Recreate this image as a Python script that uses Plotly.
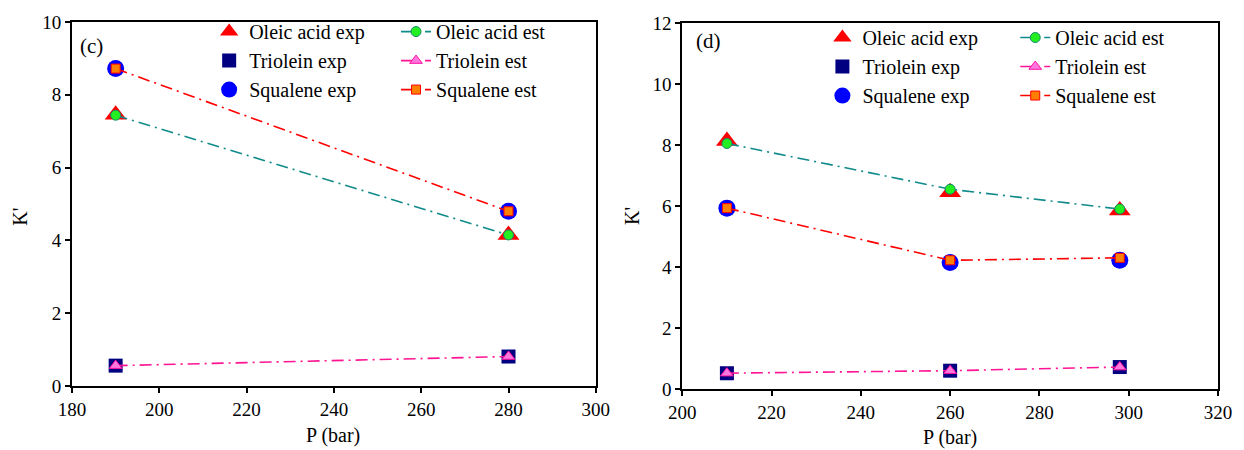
import plotly.graph_objects as go

# ---------------- data ----------------
p_c = [190, 280]
oleic_exp_c = [7.45, 4.15]
oleic_est_c = [7.44, 4.15]
triolein_exp_c = [0.56, 0.81]
triolein_est_c = [0.56, 0.81]
squalene_exp_c = [8.72, 4.80]
squalene_est_c = [8.72, 4.80]

p_d = [210, 260, 298]
oleic_exp_d = [8.13, 6.45, 5.85]
oleic_est_d = [8.05, 6.55, 5.90]
triolein_exp_d = [0.52, 0.60, 0.72]
triolein_est_d = [0.52, 0.60, 0.72]
squalene_exp_d = [5.93, 4.15, 4.22]
squalene_est_d = [5.93, 4.22, 4.30]

# ---------------- layout helpers ----------------
W, H = 1244, 450
ML, MR, MT, MB = 72, 19, 19, 61
PW, PH = W - ML - MR, H - MT - MB

def px(x):
    return (x - ML) / PW

def py(y):
    return (H - MB - y) / PH

FONT = "Liberation Serif"
DASH = "12px,5px,2px,5px"

fig = go.Figure()

def add_panel(xa, ya, p, oe, ot, te, tt, se, st, lg_exp, lg_est):
    # experimental markers
    fig.add_trace(go.Scatter(x=p, y=oe, mode="markers", name="Oleic acid exp",
                             marker=dict(symbol="triangle-up", size=19, color="#ff0000"),
                             xaxis=xa, yaxis=ya, legend=lg_exp))
    fig.add_trace(go.Scatter(x=p, y=te, mode="markers", name="Triolein exp",
                             marker=dict(symbol="square", size=14, color="#000080"),
                             xaxis=xa, yaxis=ya, legend=lg_exp))
    fig.add_trace(go.Scatter(x=p, y=se, mode="markers", name="Squalene exp",
                             marker=dict(symbol="circle", size=17, color="#0000ff"),
                             xaxis=xa, yaxis=ya, legend=lg_exp))
    # estimated lines
    fig.add_trace(go.Scatter(x=p, y=ot, mode="lines+markers", name="Oleic acid est",
                             line=dict(color="#108a8a", width=1.6, dash=DASH),
                             marker=dict(symbol="circle", size=10, color="#22ee22",
                                         line=dict(color="#108a6a", width=1)),
                             xaxis=xa, yaxis=ya, legend=lg_est))
    fig.add_trace(go.Scatter(x=p, y=tt, mode="lines+markers", name="Triolein est",
                             line=dict(color="#ff1493", width=1.6, dash=DASH),
                             marker=dict(symbol="triangle-up", size=11, color="#ff77dd",
                                         line=dict(color="#ff10a0", width=1)),
                             xaxis=xa, yaxis=ya, legend=lg_est))
    fig.add_trace(go.Scatter(x=p, y=st, mode="lines+markers", name="Squalene est",
                             line=dict(color="#ff0000", width=1.6, dash=DASH),
                             marker=dict(symbol="square", size=9, color="#ff8000",
                                         line=dict(color="#ff0000", width=1)),
                             xaxis=xa, yaxis=ya, legend=lg_est))

add_panel("x", "y", p_c, oleic_exp_c, oleic_est_c, triolein_exp_c, triolein_est_c,
          squalene_exp_c, squalene_est_c, "legend", "legend2")
add_panel("x2", "y2", p_d, oleic_exp_d, oleic_est_d, triolein_exp_d, triolein_est_d,
          squalene_exp_d, squalene_est_d, "legend3", "legend4")

axis_common = dict(showgrid=False, zeroline=False, showline=True, linecolor="black",
                   linewidth=2, mirror=True, ticks="outside", ticklen=5, tickwidth=1.5,
                   tickcolor="black", tickfont=dict(family=FONT, size=19, color="black"))

leg_common = dict(font=dict(family=FONT, size=20, color="black"), bgcolor="rgba(0,0,0,0)",
                  borderwidth=0, xanchor="left", yanchor="top", orientation="v",
                  itemsizing="trace", tracegroupgap=0)

fig.update_layout(
    width=W, height=H,
    margin=dict(l=ML, r=MR, t=MT, b=MB),
    paper_bgcolor="white", plot_bgcolor="white",
    font=dict(family=FONT, color="black"),
    xaxis=dict(domain=[0, px(599)], range=[180, 300], dtick=20, anchor="y", **axis_common),
    yaxis=dict(domain=[py(386), py(19)], range=[0, 10], dtick=2, anchor="x", **axis_common),
    xaxis2=dict(domain=[px(686), 1], range=[200, 320], dtick=20, anchor="y2", **axis_common),
    yaxis2=dict(domain=[0, py(20)], range=[0, 12], dtick=2, anchor="x2", **axis_common),
    legend=dict(x=px(210), y=py(9), **leg_common),
    legend2=dict(x=px(398), y=py(9), **leg_common),
    legend3=dict(x=px(827), y=py(15), **leg_common),
    legend4=dict(x=px(1021), y=py(15), **leg_common),
    showlegend=True,
)

ann_font = dict(family=FONT, size=20, color="black")
annotations = [
    dict(text="(c)", x=px(78), y=py(43), xanchor="left", yanchor="middle", font=dict(family=FONT, size=21, color="black")),
    dict(text="(d)", x=px(698), y=py(38), xanchor="left", yanchor="middle", font=dict(family=FONT, size=21, color="black")),
    dict(text="P (bar)", x=px(335), y=py(436), xanchor="center", yanchor="middle", font=ann_font),
    dict(text="P (bar)", x=px(955), y=py(438), xanchor="center", yanchor="middle", font=ann_font),
    dict(text="K'", x=px(20), y=py(215), xanchor="center", yanchor="middle", textangle=-90, font=ann_font),
    dict(text="K'", x=px(636), y=py(215), xanchor="center", yanchor="middle", textangle=-90, font=ann_font),
]
for a in annotations:
    a.update(xref="paper", yref="paper", showarrow=False)
fig.update_layout(annotations=annotations)

fig.write_html("out.html", config={"displayModeBar": False},
               post_script="document.body.style.margin='0';document.body.style.overflow='hidden';")
